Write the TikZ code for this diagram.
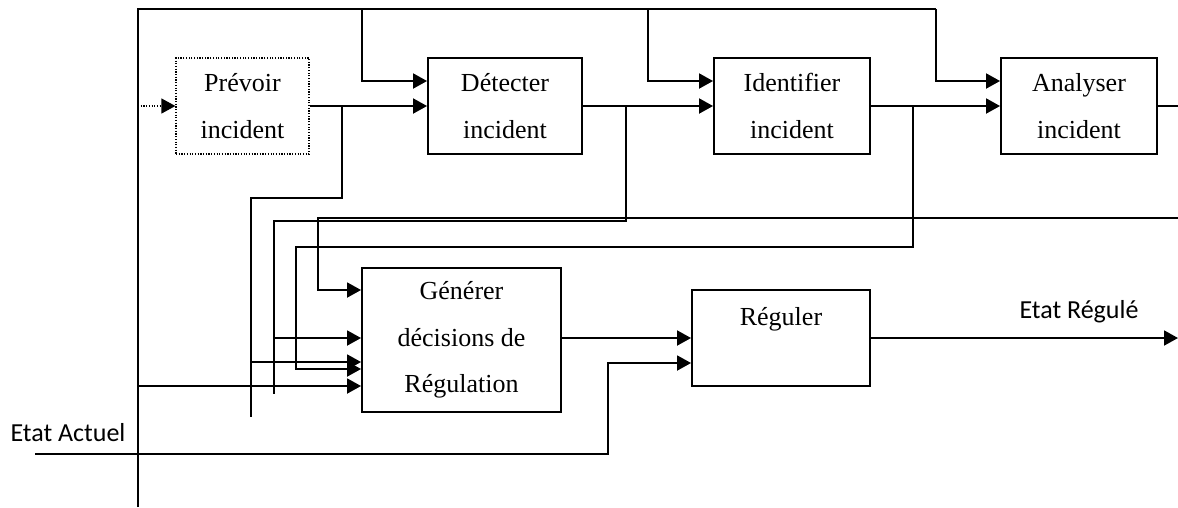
\documentclass[tikz,border=0pt]{standalone}
\usepackage{fontspec}
\setmainfont{Liberation Serif}
\newfontfamily\calibrifont{Carlito}
\usetikzlibrary{arrows.meta}

\begin{document}
\begin{tikzpicture}[x=1pt, y=-1pt, line width=1.9pt,
  box/.style={draw, minimum height=96pt, align=center, inner sep=0pt,
    font=\fontsize{26}{46.5}\selectfont},
  arr/.style={-{Triangle[length=14pt,width=15pt]}},
  lbl/.style={font=\calibrifont\fontsize{26}{30}\selectfont}]
  \useasboundingbox (0,0) rectangle (1178,507);

  % Boxes
  \node[box, minimum width=133pt, line width=1.2pt, dash pattern=on 1.2pt off 1.5pt] (prev) at (242.5,106) {Prévoir\\incident};
  \node[box, minimum width=154pt] (det) at (505,106) {Détecter\\incident};
  \node[box, minimum width=156pt] (ident) at (792,106) {Identifier\\incident};
  \node[box, minimum width=156pt] (anal) at (1079,106) {Analyser\\incident};
  \node[box, minimum width=199pt, minimum height=144pt] (gen) at (461.5,340) {Générer\\décisions de\\Régulation};
  \node[box, minimum width=178pt] (reg) at (781,338) {Réguler\\[-18pt]\strut};

  % Frame points
  \coordinate (tl) at (138,9);
  \coordinate (bl) at (138,507);
  \coordinate (t1) at (362,9);
  \coordinate (t2) at (648,9);
  \coordinate (t3) at (936,9);
  \coordinate (ea) at (35,454);
  \coordinate (er) at (1178,218);
  \coordinate (out) at (1178,106);
  \coordinate (fin) at (1178,338);

  % Top frame
  \draw (bl) -- (tl) -- (t3);
  \draw[arr] (t1) |- ([yshift=25pt]det.west);
  \draw[arr] (t2) |- ([yshift=25pt]ident.west);
  \draw[arr] (t3) |- ([yshift=25pt]anal.west);

  % Main chain
  \draw[arr, line width=1.2pt, dash pattern=on 1.2pt off 1.5pt] (tl |- prev.west) -- (prev.west);
  \draw[arr] (prev) -- (det);
  \draw[arr] (det) -- (ident);
  \draw[arr] (ident) -- (anal);
  \draw (anal) -- (out);
  \draw[arr] (gen.east |- reg.west) -- (reg);
  \draw[arr] (reg) -- (fin);

  % Feedback to Générer
  \draw (342,106) |- (251,198) -- (251,417);
  \draw[arr] (251,362) -- (gen.west |- 0,362);
  \draw (626,106) |- (274,221) -- (274,394);
  \draw[arr] (274,338) -- (gen.west |- 0,338);
  \draw[arr] (913,106) |- (296,247) |- (gen.west |- 0,369);
  \draw[arr] (er) -| (318,290) -- (gen.west |- 0,290);
  \draw[arr] (tl |- 0,386) -- (gen.west |- 0,386);

  % State
  \draw[arr] (ea) -| (608,400) |- ([yshift=-25pt]reg.west);
  \node[lbl] (actuel) at (68,433) {Etat Actuel};
  \node[lbl] (regule) at (1079,312) {Etat Régulé};
\end{tikzpicture}
\end{document}
